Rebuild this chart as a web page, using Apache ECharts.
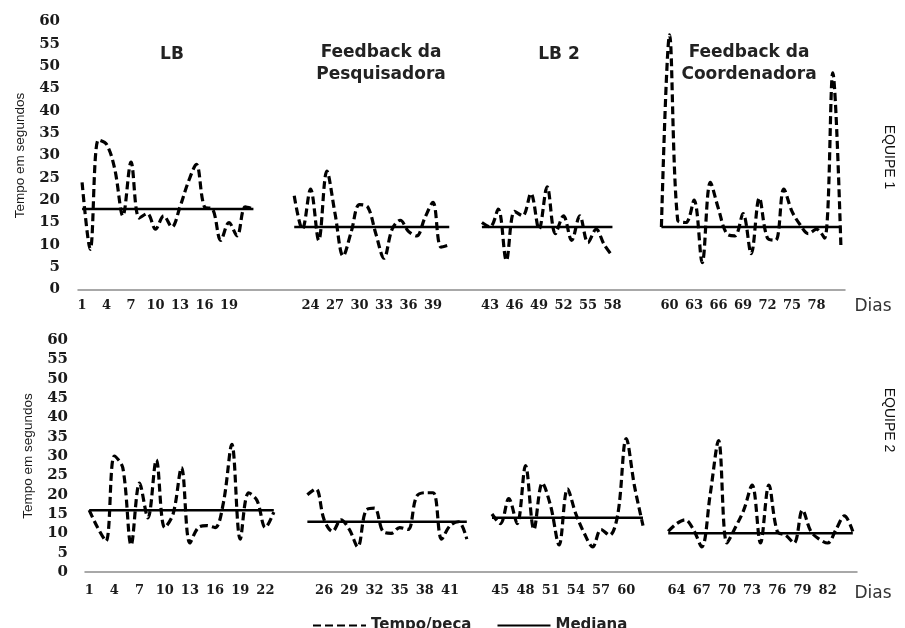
<!DOCTYPE html>
<html>
<head>
<meta charset="utf-8">
<script src="https://cdn.jsdelivr.net/npm/echarts@6/dist/echarts.min.js"></script>
<style>
html,body{margin:0;padding:0;background:#ffffff;}
#c{width:905px;height:628px;}
</style>
</head>
<body>
<div id="c"></div>
<script>
// ===== EQUIPE 1 =====
const eq1StartDays = [1, 22, 42, 59];
const eq1LB  = [24, 9, 33.5, 32.5, 27, 16.5, 28.5, 16, 17, 13.5, 16.5, 14, 18.5, 24, 28, 18.5, 18, 11, 15, 12, 18.5, 18];
const eq1FP  = [21, 13.5, 22.5, 11, 26.5, 17, 7.5, 13, 19, 18.5, 12.5, 7, 13.5, 15.5, 13, 12, 16, 19.5, 9.5, 10];
const eq1LB2 = [15, 14, 18, 6.5, 17.5, 16.5, 21.5, 13.5, 23, 12.5, 16.5, 11, 16.5, 10.5, 13.5, 10, 7.5];
const eq1FC  = [14, 57, 15.5, 15, 20, 6, 24, 18, 12.5, 12, 17, 8, 20.5, 11.5, 11, 22.5, 17.5, 14.5, 12.5, 13.5, 11.5, 48.5, 9.5];
const eq1Median = [18, 14, 14, 14];
const eq1Gaps = [4, 3, 5]; // empty category slots between phases
const eq1TickLabels = [1, 4, 7, 10, 13, 16, 19, 24, 27, 30, 33, 36, 39, 43, 46, 49, 52, 55, 58, 60, 63, 66, 69, 72, 75, 78];

// ===== EQUIPE 2 =====
const eq2StartDays = [1, 24, 44, 63];
const eq2LB  = [16, 11.5, 8, 30, 27, 7, 23, 14, 29, 11.5, 15, 27, 7.5, 11.5, 12, 11.5, 18, 33, 8.5, 20.5, 18.5, 11.5, 15.5];
const eq2FP  = [20, 21.5, 13.5, 10.5, 13.5, 11, 6.5, 16, 16.5, 10.5, 10, 11.5, 11, 19.5, 20.5, 20.5, 8.5, 12, 13, 8.5];
const eq2LB2 = [15, 12.5, 19, 12.5, 27.5, 11, 23, 17, 7, 21.5, 15, 10, 6.5, 11, 9.5, 15, 34.5, 22, 12];
const eq2FC  = [10.5, 12.5, 13.5, 11, 6.5, 20, 34, 7.5, 11.5, 16, 22.5, 7.5, 22.5, 10.5, 9.5, 7.5, 16, 10.5, 8.5, 7.5, 11, 14.5, 10.5];
const eq2Median = [16, 13, 14, 10];
const eq2Gaps = [3, 2, 2];
const eq2TickLabels = [1, 4, 7, 10, 13, 16, 19, 22, 26, 29, 32, 35, 38, 41, 45, 48, 51, 54, 57, 60, 64, 67, 70, 73, 76, 79, 82];

const phaseTitles = ['LB', 'Feedback da\nPesquisadora', 'LB 2', 'Feedback da\nCoordenadora'];
const yValues = {min: 0, max: 60, step: 5};

function build(segments, starts, gaps, medians) {
  const cats = [], vals = [], med = [];
  segments.forEach(function (seg, s) {
    seg.forEach(function (v, i) {
      cats.push(String(starts[s] + i));
      vals.push(v);
      med.push(medians[s]);
    });
    if (s < gaps.length) {
      for (let k = 0; k < gaps[s]; k++) { cats.push(''); vals.push(null); med.push(null); }
    }
  });
  return {cats: cats, vals: vals, med: med};
}

const p1 = build([eq1LB, eq1FP, eq1LB2, eq1FC], eq1StartDays, eq1Gaps, eq1Median);
const p2 = build([eq2LB, eq2FP, eq2LB2, eq2FC], eq2StartDays, eq2Gaps, eq2Median);

const INK = '#1a1a1a';

function xAxis(gridIndex, cats, ticks, margin) {
  const shown = ticks.map(String);
  return {
    type: 'category', gridIndex: gridIndex, data: cats, boundaryGap: true,
    axisLine: {show: true, lineStyle: {color: '#8c8c8c', width: 1.5}},
    axisTick: {show: false},
    splitLine: {show: false},
    axisLabel: {
      interval: 0, margin: margin, color: INK,
      fontFamily: 'DejaVu Serif', fontWeight: 'bold', fontSize: 13,
      formatter: function (v) { return shown.indexOf(v) >= 0 ? v : ''; }
    }
  };
}
function yAxis(gridIndex, margin, nameGap) {
  return {
    type: 'value', gridIndex: gridIndex, min: yValues.min, max: yValues.max, interval: yValues.step,
    axisLine: {show: false}, axisTick: {show: false}, splitLine: {show: false},
    axisLabel: {margin: margin, color: INK, fontFamily: 'DejaVu Serif', fontWeight: 'bold', fontSize: 15},
    name: 'Tempo em segundos', nameLocation: 'middle', nameGap: nameGap, nameRotate: 90,
    nameTextStyle: {fontFamily: "'Liberation Sans',sans-serif", fontSize: 13.5, color: INK}
  };
}
function lineSeries(name, idx, data, dashed) {
  return {
    name: name, type: 'line', xAxisIndex: idx, yAxisIndex: idx, data: data,
    symbol: 'none', connectNulls: false, smooth: dashed ? 0.35 : false,
    lineStyle: dashed ? {color: '#000', width: 3.2, type: [8, 4]} : {color: '#000', width: 2.5, type: 'solid'},
    itemStyle: {color: '#000'},
    emphasis: {disabled: true},
    animation: false
  };
}

const titleFont = {fontFamily: 'DejaVu Sans', fontWeight: 'bold', fontSize: 17, fill: '#222', align: 'center', verticalAlign: 'middle', lineHeight: 22};
const titleX = [172, 381, 559, 749];
const titleY = [55, 64, 55, 64];

const graphics = phaseTitles.map(function (t, i) {
  return {type: 'text', x: titleX[i], y: titleY[i], style: Object.assign({text: t}, titleFont), silent: true};
});
graphics.push({type: 'text', x: 889, y: 157, rotation: -Math.PI / 2,
  style: {text: 'EQUIPE 1', fontFamily: 'Liberation Sans', fontSize: 14, fill: '#111', align: 'center', verticalAlign: 'middle'}});
graphics.push({type: 'text', x: 889, y: 420, rotation: -Math.PI / 2,
  style: {text: 'EQUIPE 2', fontFamily: 'Liberation Sans', fontSize: 14, fill: '#111', align: 'center', verticalAlign: 'middle'}});
graphics.push({type: 'text', x: 873, y: 307,
  style: {text: 'Dias', fontFamily: 'DejaVu Sans', fontSize: 17, fill: '#333', align: 'center', verticalAlign: 'middle'}});
graphics.push({type: 'text', x: 873, y: 594,
  style: {text: 'Dias', fontFamily: 'DejaVu Sans', fontSize: 17, fill: '#333', align: 'center', verticalAlign: 'middle'}});

const chart = echarts.init(document.getElementById('c'), null, {renderer: 'canvas'});
chart.setOption({
  backgroundColor: '#ffffff',
  animation: false,
  grid: [
    {left: 78, top: 21.5, width: 767, height: 268, containLabel: false, outerBoundsMode: 'none'},
    {left: 85, top: 340, width: 772, height: 232, containLabel: false, outerBoundsMode: 'none'}
  ],
  xAxis: [xAxis(0, p1.cats, eq1TickLabels, 10), xAxis(1, p2.cats, eq2TickLabels, 12)],
  yAxis: [yAxis(0, 18, 51), yAxis(1, 17, 50)],
  legend: {
    data: ['Tempo/peça', 'Mediana'],
    left: 307, top: 613, itemWidth: 53, itemHeight: 14, itemGap: 25,
    itemStyle: {color: 'transparent', borderColor: 'transparent', borderWidth: 0, opacity: 0},
    textStyle: {fontFamily: 'DejaVu Sans', fontWeight: 'bold', fontSize: 15, color: '#222'},
    selectedMode: false
  },
  series: [
    lineSeries('Tempo/peça', 0, p1.vals, true),
    lineSeries('Mediana', 0, p1.med, false),
    lineSeries('Tempo/peça', 1, p2.vals, true),
    lineSeries('Mediana', 1, p2.med, false)
  ],
  graphic: graphics
});
</script>
</body>
</html>
